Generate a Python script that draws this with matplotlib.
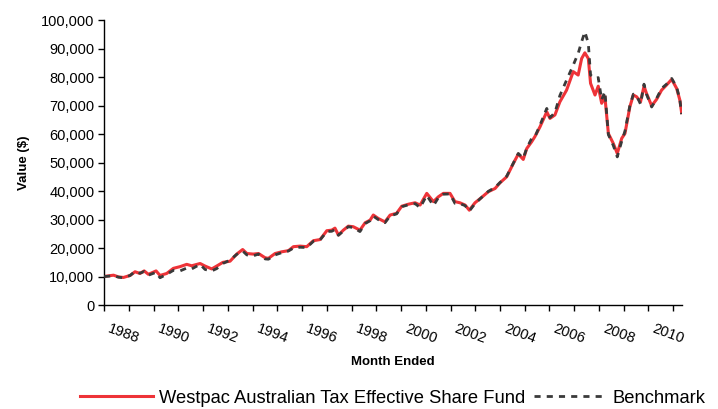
import numpy as np
import matplotlib
matplotlib.use("Agg")
import matplotlib.pyplot as plt
import matplotlib.transforms as mtransforms
from matplotlib.ticker import FuncFormatter, MultipleLocator

plt.rcParams['font.family'] = ['Liberation Sans', 'DejaVu Sans']

# values (decimal year, $ value)
fund_years = [1988.00, 1988.38, 1988.58, 1988.78, 1989.05, 1989.25, 1989.45, 1989.62, 1989.79,
              1990.10, 1990.26, 1990.53, 1990.80, 1991.07, 1991.34, 1991.54, 1991.88, 1992.08,
              1992.35, 1992.55, 1992.80, 1993.09, 1993.36, 1993.60, 1993.77, 1994.03, 1994.24,
              1994.51, 1994.64, 1994.91, 1995.18, 1995.45, 1995.65, 1995.92, 1996.19, 1996.46,
              1996.73, 1997.00, 1997.20, 1997.33, 1997.47, 1997.67, 1997.87, 1998.07, 1998.34,
              1998.55, 1998.75, 1998.88, 1999.08, 1999.35, 1999.56, 1999.82, 2000.03, 2000.30,
              2000.57, 2000.77, 2001.04, 2001.31, 2001.51, 2001.71, 2001.98, 2002.18, 2002.38,
              2002.59, 2002.76, 2002.99, 2003.26, 2003.53, 2003.80, 2004.00, 2004.27, 2004.54,
              2004.74, 2004.94, 2005.08, 2005.28, 2005.41, 2005.62, 2005.89, 2006.02, 2006.22,
              2006.42, 2006.69, 2006.96, 2007.16, 2007.30, 2007.43, 2007.57, 2007.66, 2007.84,
              2007.97, 2008.11, 2008.24, 2008.38, 2008.58, 2008.74, 2008.92, 2009.05, 2009.25,
              2009.39, 2009.52, 2009.68, 2009.82, 2009.92, 2010.13, 2010.33, 2010.53, 2010.73,
              2010.94, 2011.14, 2011.27, 2011.34]
fund_values = [10060, 10500, 9900, 9700, 10400, 11700, 11100, 12000, 10800,
               12000, 10400, 11100, 12900, 13500, 14300, 13800, 14600, 13700,
               12700, 13700, 15000, 15400, 17900, 19500, 18100, 17900, 18100,
               16600, 16400, 18100, 18700, 19100, 20500, 20700, 20500, 22600,
               23000, 26100, 26300, 27000, 24600, 26300, 27700, 27500, 26300,
               28900, 29800, 31600, 30400, 29200, 31600, 32200, 34700, 35400,
               35900, 35100, 39200, 36300, 38000, 39200, 39200, 36300, 35900,
               35100, 33300, 35900, 37800, 39800, 40900, 42900, 45000, 49700,
               53000, 51100, 54900, 57300, 59100, 62600, 67800, 65500, 66700,
               71300, 75400, 81900, 80700, 86500, 88500, 86500, 77800, 73700,
               76800, 70800, 73100, 60200, 56700, 53200, 58500, 60200, 69600,
               73700, 73100, 71300, 76800, 74300, 69900, 72200, 75400, 77200,
               79200, 76000, 71900, 67500]
bench_values = [10000, 10300, 9800, 9600, 10400, 11800, 11200, 11800, 10500,
                11500, 9600, 10800, 12200, 12000, 13000, 12700, 14300, 12500,
                12000, 12800, 14600, 15800, 17800, 19000, 17600, 17300, 17900,
                16200, 16100, 17600, 18400, 19000, 20000, 20300, 20200, 22400,
                22900, 25800, 25900, 26500, 24500, 26000, 27500, 27200, 25800,
                28600, 29600, 31200, 30000, 28900, 31300, 32000, 34500, 35200,
                35600, 34200, 38500, 34900, 37700, 38900, 39000, 35700, 35600,
                34900, 33000, 35600, 37800, 39900, 41300, 43000, 45200, 49800,
                53200, 51500, 55000, 58500, 59000, 63200, 69000, 65800, 67500,
                73500, 78900, 84200, 88300, 92400, 95900, 91800, 80700, 79500,
                79800, 72000, 74900, 59800, 56000, 52000, 57500, 61000, 70000,
                74000, 73500, 70500, 77500, 74000, 69500, 72500, 76000, 77500,
                79500, 76500, 72000, 67000]
year_ticks = list(range(1988, 2011, 2))
fund_name = 'Westpac Australian Tax Effective Share Fund'
bench_name = 'Benchmark'

fig = plt.figure(figsize=(7.18, 4.09), dpi=100)
ax = fig.add_axes([0.145, 0.254, 0.805, 0.697])

ax.plot(fund_years, fund_values, color='#EE3338', lw=2.2, label=fund_name, zorder=2)
ax.plot(fund_years, bench_values, color='#3A3A3A', lw=2.0, ls=(0, (2.2, 2.2)),
        label=bench_name, zorder=3)

ax.set_ylim(0, 100000)
ax.set_xlim(1988, 2011.36)
ax.yaxis.set_major_locator(MultipleLocator(10000))
ax.yaxis.set_major_formatter(FuncFormatter(lambda v, p: f'{int(v):,}'))
ax.set_xticks(year_ticks)
ax.set_xticks(range(1989, 2012, 2), minor=True)
ax.set_xticklabels([str(y) for y in year_ticks], rotation=-20, ha='left',
                   rotation_mode='anchor', fontsize=10.5)
ax.tick_params(axis='x', which='both', length=4, width=1, direction='out', pad=8)
ax.tick_params(axis='y', length=4, width=1, labelsize=10.5, pad=3)
# nudge year labels right like the original
shift = mtransforms.ScaledTranslation(7 / 100, 0, fig.dpi_scale_trans)
for lab in ax.get_xticklabels():
    lab.set_transform(lab.get_transform() + shift)

for s in ['top', 'right']:
    ax.spines[s].set_visible(False)
for s in ['left', 'bottom']:
    ax.spines[s].set_linewidth(1)

ax.set_ylabel('Value ($)', fontsize=9.5, fontweight='bold', labelpad=8)
ax.set_xlabel('Month Ended', fontsize=9.5, fontweight='bold', labelpad=7)

fig.legend(loc='lower center', bbox_to_anchor=(0.547, -0.035), ncol=2, frameon=False,
           fontsize=13.2, handlelength=4.0, handletextpad=0.3, columnspacing=0.5)

fig.savefig('out.png', dpi=100)
